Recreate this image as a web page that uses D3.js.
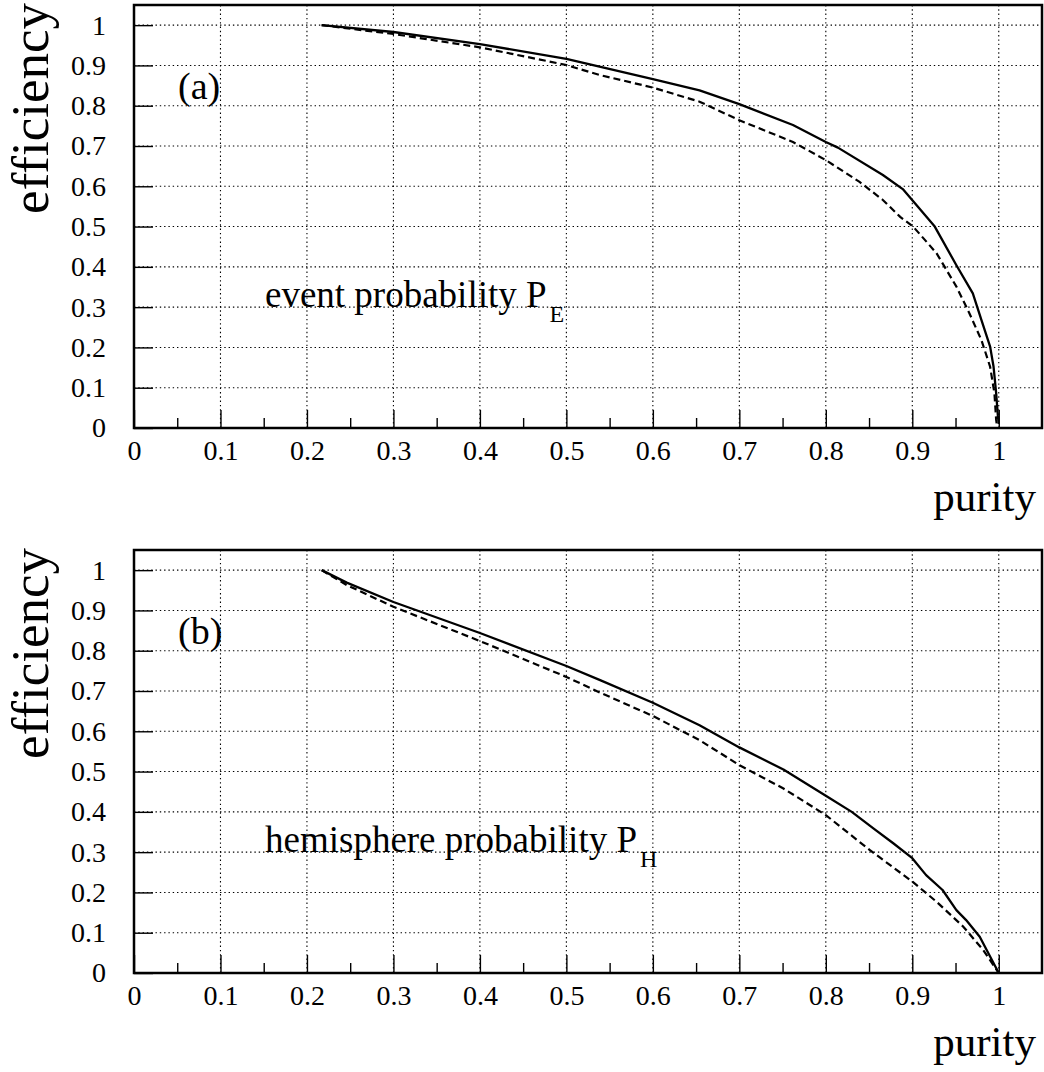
<!DOCTYPE html>
<html>
<head>
<meta charset="utf-8">
<script src="https://cdn.jsdelivr.net/npm/d3@7"></script>
<style>
  html, body { margin: 0; padding: 0; background: #fff; }
  svg { display: block; }
  text { font-family: "Liberation Serif", "Times New Roman", Times, serif; fill: #000; }
</style>
</head>
<body>
<svg id="chart" width="1044" height="1072"></svg>
<script>
// Axis ticks and labels
const majorTicks = [0, 0.1, 0.2, 0.3, 0.4, 0.5, 0.6, 0.7, 0.8, 0.9, 1];
const minorTicks = [0.05, 0.15, 0.25, 0.35, 0.45, 0.55, 0.65, 0.75, 0.85, 0.95];
const tickLabels = ["0", "0.1", "0.2", "0.3", "0.4", "0.5", "0.6", "0.7", "0.8", "0.9", "1"];

// (a) event probability P_E — solid curve
const eventSolidPurity = [0.217, 0.3, 0.4, 0.5, 0.6, 0.654, 0.7, 0.762, 0.8, 0.814, 0.866, 0.889, 0.926, 0.951, 0.970, 0.980, 0.990, 0.994, 0.997, 0.999, 1.0];
const eventSolidEff    = [1.0, 0.983, 0.953, 0.916, 0.866, 0.838, 0.804, 0.752, 0.710, 0.696, 0.628, 0.593, 0.500, 0.404, 0.334, 0.268, 0.202, 0.152, 0.086, 0.030, 0.010];
// (a) event probability P_E — dashed curve
const eventDashedPurity = [0.217, 0.3, 0.4, 0.5, 0.539, 0.6, 0.654, 0.7, 0.762, 0.8, 0.839, 0.866, 0.886, 0.901, 0.928, 0.951, 0.966, 0.980, 0.990, 0.995, 0.997, 0.998];
const eventDashedEff    = [1.0, 0.978, 0.945, 0.901, 0.876, 0.845, 0.810, 0.764, 0.710, 0.665, 0.611, 0.566, 0.524, 0.500, 0.434, 0.351, 0.285, 0.218, 0.152, 0.086, 0.020, 0.005];

// (b) hemisphere probability P_H — solid curve
const hemiSolidPurity = [0.217, 0.246, 0.3, 0.4, 0.5, 0.539, 0.6, 0.654, 0.7, 0.751, 0.8, 0.830, 0.855, 0.878, 0.9, 0.916, 0.935, 0.951, 0.962, 0.978, 0.988, 1.0];
const hemiSolidEff    = [1.0, 0.969, 0.921, 0.844, 0.762, 0.727, 0.671, 0.615, 0.560, 0.505, 0.440, 0.400, 0.359, 0.322, 0.285, 0.243, 0.206, 0.156, 0.132, 0.090, 0.049, 0.0];
// (b) hemisphere probability P_H — dashed curve
const hemiDashedPurity = [0.217, 0.246, 0.3, 0.4, 0.5, 0.539, 0.6, 0.654, 0.7, 0.751, 0.8, 0.851, 0.9, 0.928, 0.959, 0.982, 1.0];
const hemiDashedEff    = [1.0, 0.963, 0.909, 0.824, 0.735, 0.696, 0.638, 0.578, 0.516, 0.458, 0.392, 0.305, 0.227, 0.177, 0.115, 0.057, 0.0];

const panels = [
  { top: 5, bottom: 428, tag: "(a)", label: "event probability P", sub: "E",
    solid: [eventSolidPurity, eventSolidEff], dashed: [eventDashedPurity, eventDashedEff] },
  { top: 550, bottom: 973, tag: "(b)", label: "hemisphere probability P", sub: "H",
    solid: [hemiSolidPurity, hemiSolidEff], dashed: [hemiDashedPurity, hemiDashedEff] }
];

const svg = d3.select("#chart");
const left = 134, right = 1042;
const serif = '"Liberation Serif", "Times New Roman", Times, serif';
const fmt = d => tickLabels[majorTicks.indexOf(d)];

panels.forEach(p => {
  const x = d3.scaleLinear().domain([0, 1.05]).range([left, right]);
  const y = d3.scaleLinear().domain([0, 1.05]).range([p.bottom, p.top]);
  const g = svg.append("g");

  // dotted grid
  const grid = g.append("g").attr("stroke", "#000").attr("stroke-width", 1.1)
    .attr("stroke-dasharray", "1.4,2.9");
  majorTicks.filter(t => t > 0).forEach(t => {
    grid.append("line").attr("x1", x(t)).attr("x2", x(t)).attr("y1", p.top).attr("y2", p.bottom);
    grid.append("line").attr("x1", left).attr("x2", right).attr("y1", y(t)).attr("y2", y(t));
  });

  // x axis: major and minor ticks pointing inward
  const xMajor = d3.axisBottom(x).tickValues(majorTicks).tickFormat(fmt)
    .tickSizeInner(-18).tickSizeOuter(0).tickPadding(12);
  const xa = g.append("g").attr("transform", `translate(0,${p.bottom})`).call(xMajor);
  const xMinor = d3.axisBottom(x).tickValues(minorTicks).tickFormat("")
    .tickSizeInner(-10).tickSizeOuter(0);
  const xm = g.append("g").attr("transform", `translate(0,${p.bottom})`).call(xMinor);

  // y axis
  const yMajor = d3.axisLeft(y).tickValues(majorTicks).tickFormat(fmt)
    .tickSizeInner(-19).tickSizeOuter(0).tickPadding(28);
  const ya = g.append("g").attr("transform", `translate(${left},0)`).call(yMajor);

  [xa, xm, ya].forEach(a => {
    a.attr("font-family", serif).attr("font-size", 28);
    a.select(".domain").remove();
    a.selectAll(".tick line").attr("stroke", "#000").attr("stroke-width", 1.4);
    a.selectAll(".tick text").attr("font-family", serif).attr("font-size", 28);
  });

  // curves
  const line = d3.line().x(d => x(d[0])).y(d => y(d[1]));
  const pts = arr => arr[0].map((v, i) => [v, arr[1][i]]);
  g.append("path").datum(pts(p.dashed)).attr("d", line)
    .attr("fill", "none").attr("stroke", "#000").attr("stroke-width", 2.2)
    .attr("stroke-dasharray", "7,4");
  g.append("path").datum(pts(p.solid)).attr("d", line)
    .attr("fill", "none").attr("stroke", "#000").attr("stroke-width", 2.3)
    .attr("stroke-linejoin", "round");

  // frame
  g.append("rect").attr("x", left).attr("y", p.top)
    .attr("width", right - left).attr("height", p.bottom - p.top)
    .attr("fill", "none").attr("stroke", "#000").attr("stroke-width", 2.5);

  // panel tag and description
  g.append("text").attr("x", 178).attr("y", y(0.8) - 7)
    .style("font-size", "38px").text(p.tag);
  const t = g.append("text").attr("x", 265).attr("y", y(0.3))
    .style("font-size", "37px").text(p.label);
  t.append("tspan").attr("dx", 3).attr("dy", 15).style("font-size", "24px").text(p.sub);

  // axis titles
  g.append("text").attr("x", 1036).attr("y", p.bottom + 83)
    .attr("text-anchor", "end").style("font-size", "43px").text("purity");
  g.append("text").attr("transform", `translate(48,${p.top - 2}) rotate(-90)`)
    .attr("text-anchor", "end").style("font-size", "53px").text("efficiency");
});
</script>
</body>
</html>
